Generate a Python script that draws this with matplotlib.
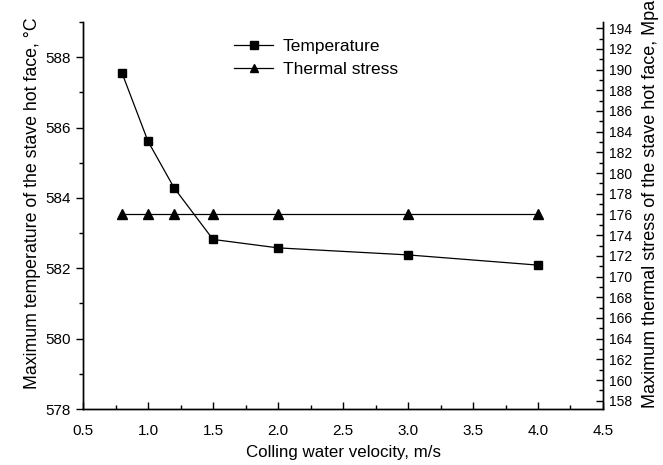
import numpy as np
import matplotlib.pyplot as plt
from matplotlib.ticker import MultipleLocator

plt.rcParams['font.family'] = ['Liberation Sans', 'DejaVu Sans']

# Data
velocity = [0.8, 1.0, 1.2, 1.5, 2.0, 3.0, 4.0]
temperature = [587.55, 585.61, 584.29, 582.82, 582.58, 582.38, 582.09]
thermal_stress = [176, 176, 176, 176, 176, 176, 176]

fig = plt.figure(figsize=(6.63, 4.65), dpi=100)
ax1 = fig.add_axes([0.1252, 0.1204, 0.7843, 0.8323])
ax2 = ax1.twinx()

l1, = ax1.plot(velocity, temperature, color='black', lw=0.9, marker='s',
               markersize=6, label='Temperature')
l2, = ax2.plot(velocity, thermal_stress, color='black', lw=0.9, marker='^',
               markersize=7, label='Thermal stress')

ax1.set_xlim(0.5, 4.5)
ax1.set_ylim(578, 589)
ax2.set_ylim(157.2, 194.6)

ax1.xaxis.set_major_locator(MultipleLocator(0.5))
ax1.xaxis.set_minor_locator(MultipleLocator(0.25))
ax1.yaxis.set_major_locator(MultipleLocator(2))
ax1.yaxis.set_minor_locator(MultipleLocator(1))
ax2.yaxis.set_major_locator(MultipleLocator(2))
ax2.yaxis.set_minor_locator(MultipleLocator(1))

for ax in (ax1, ax2):
    ax.spines['top'].set_visible(False)
    for s in ax.spines.values():
        s.set_linewidth(1.0)

ax1.tick_params(axis='x', which='major', direction='in', length=5, width=1, labelsize=11, pad=11)
ax1.tick_params(axis='x', which='minor', direction='in', length=3, width=1)
ax1.tick_params(axis='y', which='major', direction='out', length=5, width=1, labelsize=11)
ax1.tick_params(axis='y', which='minor', direction='out', length=3, width=1)
ax2.tick_params(axis='y', which='major', direction='in', length=5, width=1, labelsize=10, pad=4)
ax2.tick_params(axis='y', which='minor', direction='in', length=3, width=1)

ax1.set_xlabel('Colling water velocity, m/s', fontsize=12.2, labelpad=5)
ax1.set_ylabel('Maximum temperature of the stave hot face, \u00b0C', fontsize=12.8)
ax2.set_ylabel('Maximum thermal stress of the stave hot face, Mpa', fontsize=13)
ax1.yaxis.set_label_coords(-0.081, 0.532)
ax2.yaxis.set_label_coords(1.075, 0.53)

fig.legend([l1, l2], ['Temperature', 'Thermal stress'], loc='upper left',
           bbox_to_anchor=(0.33, 0.95), frameon=False, fontsize=12.5,
           handlelength=2.2, handletextpad=0.6, labelspacing=0.45, markerscale=0.85)

fig.savefig('out.png', dpi=100)
